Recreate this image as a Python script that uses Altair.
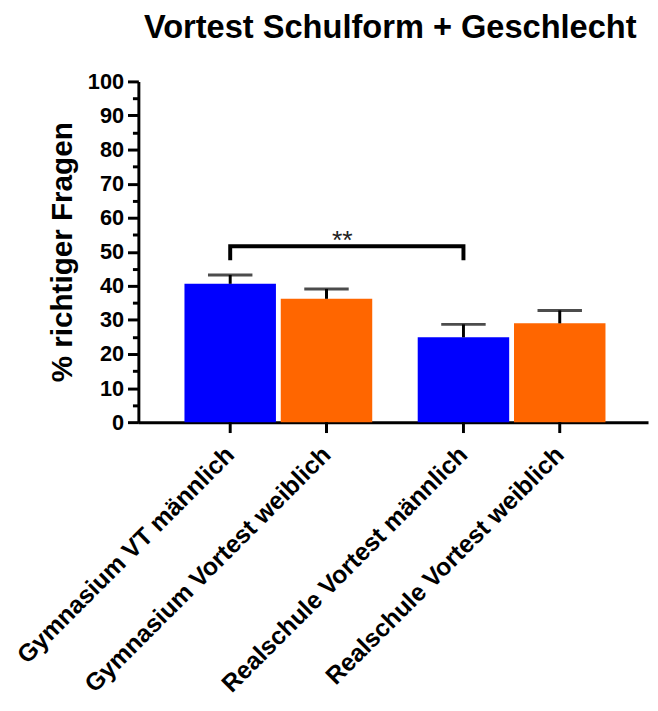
import altair as alt
import pandas as pd

# ---- data ----
categories = [
    "Gymnasium VT männlich",
    "Gymnasium Vortest weiblich",
    "Realschule Vortest männlich",
    "Realschule Vortest weiblich",
]
schulform = ["Gymnasium", "Gymnasium", "Realschule", "Realschule"]
geschlecht = ["männlich", "weiblich", "männlich", "weiblich"]
means = [40.6, 36.2, 24.9, 29.0]
sems = [2.6, 2.9, 3.8, 3.8]

bracket_schulform = ["Gymnasium", "Gymnasium", "Realschule", "Realschule"]
bracket_geschlecht = ["männlich", "männlich", "männlich", "männlich"]
bracket_value = [47.5, 51.6, 51.6, 47.5]
bracket_order = [0, 1, 2, 3]
sig_text = ["**"]
sig_schulform = ["Gymnasium"]
sig_geschlecht = ["weiblich"]
sig_value = [51.6]

y_ticks = list(range(0, 101, 5))

df = pd.DataFrame({
    "label": categories,
    "schulform": schulform,
    "geschlecht": geschlecht,
    "mean": means,
    "sem": sems,
})
df["upper"] = df["mean"] + df["sem"]

bracket_df = pd.DataFrame({
    "schulform": bracket_schulform,
    "geschlecht": bracket_geschlecht,
    "value": bracket_value,
    "order": bracket_order,
})
sig_df = pd.DataFrame({
    "schulform": sig_schulform,
    "geschlecht": sig_geschlecht,
    "value": sig_value,
    "text": sig_text,
})

FONT = "Liberation Sans"
W, H = 516, 345

x_enc = alt.X(
    "schulform:N",
    scale=alt.Scale(domain=["Gymnasium", "Realschule"], paddingInner=0.195,
                    paddingOuter=0.19, align=0.52),
    axis=alt.Axis(title=None, labels=False, ticks=False, domain=True,
                  domainWidth=3, domainColor="black", grid=False),
)
xo_enc = alt.XOffset(
    "geschlecht:N",
    scale=alt.Scale(domain=["männlich", "weiblich"], paddingInner=0.05),
)
y_scale = alt.Scale(domain=[0, 100], nice=False)
y_axis = alt.Axis(
    title="% richtiger Fragen",
    values=y_ticks,
    labelExpr="datum.value % 10 === 0 ? datum.label : ''",
    labelOverlap=False,
    labelFont=FONT, labelFontSize=22, labelFontWeight="bold", labelColor="black",
    labelPadding=4,
    titleFont=FONT, titleFontSize=30, titleFontWeight="bold", titleColor="black",
    titlePadding=10,
    tickColor="black", tickWidth=3,
    tickSize={"condition": {"test": "datum.value % 10 === 0", "value": 11}, "value": 6},
    domainColor="black", domainWidth=3, grid=False,
)

bars = alt.Chart(df).mark_bar().encode(
    x=x_enc,
    xOffset=xo_enc,
    y=alt.Y("mean:Q", scale=y_scale, axis=y_axis),
    color=alt.Color("geschlecht:N",
                    scale=alt.Scale(domain=["männlich", "weiblich"],
                                    range=["#0000ff", "#ff6600"]),
                    legend=None),
)

err = alt.Chart(df).mark_rule(color="black", strokeWidth=3).encode(
    x=x_enc, xOffset=xo_enc,
    y=alt.Y("mean:Q", scale=y_scale, axis=y_axis),
    y2="upper:Q",
)
caps = alt.Chart(df).mark_tick(color="black", thickness=3, size=45,
                               orient="horizontal").encode(
    x=x_enc, xOffset=xo_enc,
    y=alt.Y("upper:Q", scale=y_scale, axis=y_axis),
)

xticks = alt.Chart(df).mark_rule(color="black", strokeWidth=3).encode(
    x=x_enc, xOffset=xo_enc,
    y=alt.value(H), y2=alt.value(H + 11),
)
xlabels = alt.Chart(df).mark_text(
    angle=315, align="right", baseline="middle", font=FONT, fontSize=25,
    fontWeight="bold", color="black",
).encode(
    x=x_enc, xOffset=xo_enc,
    y=alt.value(H + 29),
    text="label:N",
)

bracket = alt.Chart(bracket_df).mark_line(
    color="black", strokeWidth=4, strokeJoin="miter"
).encode(
    x=x_enc, xOffset=xo_enc,
    y=alt.Y("value:Q", scale=y_scale, axis=y_axis),
    order="order:O",
)
sig = alt.Chart(sig_df).mark_text(
    font=FONT, fontSize=27, color="#222222", baseline="bottom", dx=16, dy=9,
).encode(
    x=x_enc, xOffset=xo_enc,
    y=alt.Y("value:Q", scale=y_scale, axis=y_axis),
    text="text:N",
)

chart = alt.layer(bars, err, caps, xticks, xlabels, bracket, sig).properties(
    width=W,
    height=H,
    title=alt.Title("Vortest Schulform + Geschlecht", font=FONT, fontSize=33,
                    fontWeight="bold", color="black", anchor="middle",
                    frame="group", offset=26, dx=-3),
    autosize=alt.AutoSizeParams(type="none"),
    padding={"left": 132, "top": 70, "right": 2, "bottom": 280},
).configure_view(stroke=None)

chart.save("out.html", embed_options={"renderer": "svg", "actions": False})
